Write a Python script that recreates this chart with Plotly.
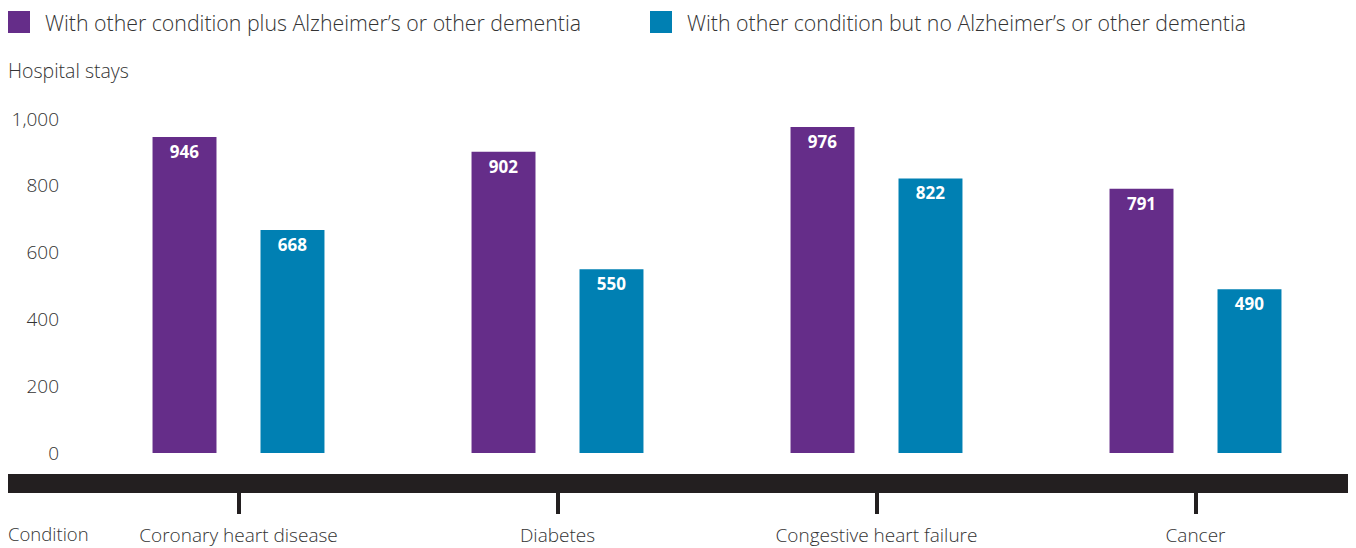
import plotly.graph_objects as go

# ---- data ----
categories = ["Coronary heart disease", "Diabetes", "Congestive heart failure", "Cancer"]
with_dementia = [946, 902, 976, 791]
without_dementia = [668, 550, 822, 490]
series_names = [
    "With other condition plus Alzheimer\u2019s or other dementia",
    "With other condition but no Alzheimer\u2019s or other dementia",
]
y_ticks = [0, 200, 400, 600, 800, 1000]

# ---- style ----
PURPLE = "#652d89"
BLUE = "#0080b3"
BLACK = "#231f20"
TEXT = "#333333"
FONT = "Open Sans"
colors = [PURPLE, BLUE]

W, H = 1356, 548
L, R, T, B = 0, 0, 92, 82
plot_w = W - L - R
plot_h = H - T - B
px_per_unit = 0.334          # vertical scale
zero_px = 445                # pixel row of y=0 (figure coords)
cat_first_px, cat_step_px = 230.5, 319.0

y_bot = -((H - B) - zero_px) / px_per_unit
y_top = (zero_px - T) / px_per_unit
x_lo = (L - cat_first_px) / cat_step_px
x_hi = (W - R - cat_first_px) / cat_step_px


def py(pix):
    """figure pixel row -> paper y"""
    return ((H - B) - pix) / plot_h


def px(pix):
    """figure pixel column -> paper x"""
    return (pix - L) / plot_w


fig = go.Figure()
for name, vals, col in zip(series_names, [with_dementia, without_dementia], colors):
    fig.add_trace(go.Bar(
        x=categories, y=vals, name=name, marker=dict(color=col, line=dict(width=0)),
        texttemplate="%{y}", textposition="inside", insidetextanchor="end",
        textangle=0, constraintext="none",
        textfont=dict(family=FONT, size=17, color="white", weight="bold"),
        showlegend=False, hoverinfo="x+y",
    ))

# legend drawn as swatches + labels (keys at left of each entry)
legend_key_x = [0, 642]
shapes = []
annotations = []
for name, col, kx in zip(series_names, colors, legend_key_x):
    shapes.append(dict(type="rect", xref="paper", yref="paper",
                       x0=px(kx), x1=px(kx + 22), y0=py(25), y1=py(3),
                       fillcolor=col, line=dict(width=0), layer="above"))
    annotations.append(dict(text=name, xref="paper", yref="paper",
                            x=px(kx + 34.5), y=py(14.5), xanchor="left", yanchor="middle",
                            showarrow=False,
                            font=dict(family=FONT, size=21.3, color=TEXT, weight=300)))

annotations += [
    dict(text="Hospital stays", xref="paper", yref="paper",
         x=0, y=py(63), xanchor="left", yanchor="middle", xshift=-2,
         showarrow=False, font=dict(family=FONT, size=19.5, color=TEXT, weight=300)),
    dict(text="Condition", xref="paper", yref="paper",
         x=0, y=py(525), xanchor="left", yanchor="middle", xshift=-2,
         showarrow=False, font=dict(family=FONT, size=18.5, color=TEXT, weight=300)),
]

fig.update_layout(
    width=W, height=H,
    margin=dict(l=L, r=R, t=T, b=B, pad=0, autoexpand=False),
    paper_bgcolor="white", plot_bgcolor="white",
    barmode="group", bargap=0.323, bargroupgap=0.4076,
    font=dict(family=FONT, size=19, color=TEXT, weight=300),
    showlegend=False,
    xaxis=dict(
        type="category", range=[x_lo, x_hi],
        showline=True, linewidth=19, linecolor=BLACK,
        ticks="outside", ticklen=21, tickwidth=4, tickcolor=BLACK,
        tickfont=dict(family=FONT, size=19, color=TEXT, weight=300),
        ticklabelstandoff=5,
        showgrid=False, zeroline=False, fixedrange=True, automargin=False,
    ),
    yaxis=dict(
        range=[y_bot, y_top], tickvals=y_ticks, tickformat=",",
        ticks="", showline=False, showgrid=False, zeroline=False,
        tickfont=dict(family=FONT, size=19, color=TEXT, weight=300),
        ticklabelstandoff=-52, fixedrange=True, automargin=False,
    ),
    shapes=shapes,
    annotations=annotations,
)

fig.write_html("out.html")
